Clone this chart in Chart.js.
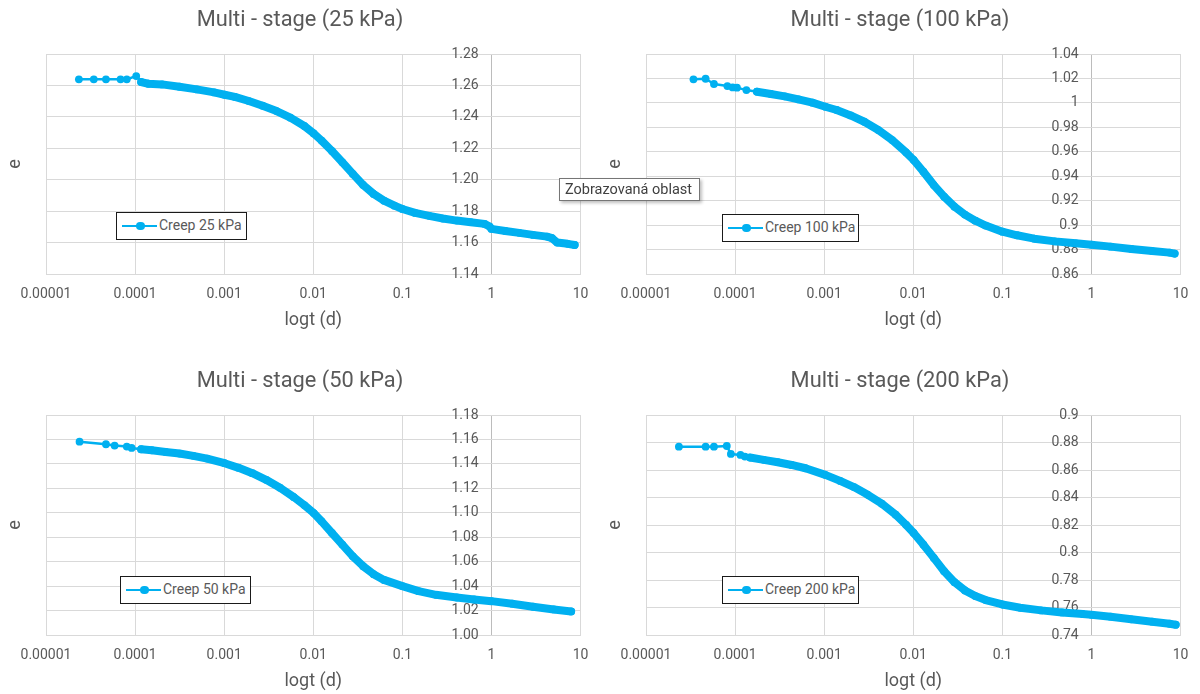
<!DOCTYPE html>
<html>
<head>
<meta charset="utf-8">
<script src="https://cdn.jsdelivr.net/npm/chart.js@4.4.1/dist/chart.umd.min.js"></script>
<style>
  html, body { margin: 0; padding: 0; background: #fff; overflow: hidden; }
  body { width: 1200px; height: 694px; position: relative; font-family: Roboto, sans-serif; }
  .box { position: absolute; width: 600px; height: 345px; }
  .legend { position: absolute; box-sizing: border-box; border: 1.5px solid #1a1a1a; background: #fff;
            height: 28px; font-size: 14px; color: #595959; }
  .legend .ln { position: absolute; left: 5px; top: 11.5px; width: 35px; height: 2.5px; background: #00B0F0; }
  .legend .dot { position: absolute; left: 19px; top: 8.5px; width: 8.5px; height: 8.5px; border-radius: 50%; background: #00B0F0; }
  .legend .txt { position: absolute; left: 42px; top: 4px; white-space: nowrap; }
  .tip { position: absolute; left: 559px; top: 178px; width: 141px; height: 23px; box-sizing: border-box;
         border: 1px solid #767676; background: #fff; box-shadow: 2px 2px 3px rgba(0,0,0,0.25);
         font-size: 14.5px; color: #404040; padding: 2px 0 0 5px; white-space: nowrap; }
</style>
</head>
<body>
<div class="box" style="left:0;top:0"><canvas id="c25"></canvas></div>
<div class="box" style="left:600px;top:0"><canvas id="c100"></canvas></div>
<div class="box" style="left:0;top:361px"><canvas id="c50"></canvas></div>
<div class="box" style="left:600px;top:361px"><canvas id="c200"></canvas></div>

<div class="legend" style="left:116px;top:212px;width:131px"><div class="ln"></div><div class="dot"></div><div class="txt">Creep 25 kPa</div></div>
<div class="legend" style="left:722px;top:214px;width:137px"><div class="ln"></div><div class="dot"></div><div class="txt">Creep 100 kPa</div></div>
<div class="legend" style="left:120px;top:576px;width:131px"><div class="ln"></div><div class="dot"></div><div class="txt">Creep 50 kPa</div></div>
<div class="legend" style="left:722px;top:576px;width:137px"><div class="ln"></div><div class="dot"></div><div class="txt">Creep 200 kPa</div></div>

<div class="tip">Zobrazovaná oblast</div>

<script>
// shared x axis (log t, days)
var xTickLabels = ['0.00001', '0.0001', '0.001', '0.01', '0.1', '1', '10'];

// 25 kPa
var t25 = [2.34e-5, 3.44e-5, 4.71e-5, 6.87e-5, 8.07e-5, 1.03e-4, 1.17e-4, 1.41e-4, 2.01e-4, 3.15e-4,
  4.93e-4, 7.71e-4, 1.01e-3, 1.32e-3, 1.89e-3, 2.70e-3, 3.87e-3, 5.53e-3, 7.93e-3, 1.01e-2,
  1.24e-2, 1.62e-2, 2.12e-2, 2.78e-2, 3.63e-2, 4.75e-2, 6.22e-2, 8.15e-2, 0.1, 0.139,
  0.2, 0.285, 0.408, 0.585, 0.836, 0.955, 1.0, 1.43, 2.05, 2.93, 4.20, 4.79, 5.48, 7.18, 8.59];
var e25 = [1.2639, 1.2639, 1.2639, 1.2639, 1.2639, 1.2660, 1.2622, 1.2611, 1.2607, 1.2592,
  1.2575, 1.2556, 1.2541, 1.2527, 1.2501, 1.2471, 1.2437, 1.2395, 1.2342, 1.2295,
  1.2249, 1.2183, 1.2111, 1.2037, 1.1967, 1.1910, 1.1867, 1.1835, 1.1814, 1.1789,
  1.1770, 1.1753, 1.1740, 1.1730, 1.1719, 1.1702, 1.1687, 1.1674, 1.1662, 1.1649, 1.1638, 1.1628, 1.1600, 1.1592, 1.1585];
var yTicks25 = ['1.14', '1.16', '1.18', '1.20', '1.22', '1.24', '1.26', '1.28'];

// 100 kPa
var t100 = [3.41e-5, 4.67e-5, 5.79e-5, 8.20e-5, 9.40e-5, 1.05e-4, 1.34e-4, 1.76e-4, 2.52e-4, 3.60e-4,
  5.15e-4, 7.38e-4, 1.03e-3, 1.38e-3, 1.98e-3, 2.82e-3, 4.05e-3, 5.79e-3, 8.28e-3, 1.01e-2,
  1.30e-2, 1.70e-2, 2.22e-2, 2.90e-2, 3.80e-2, 4.97e-2, 6.50e-2, 0.1, 0.146, 0.228,
  0.390, 0.668, 1.0, 1.64, 2.80, 4.80, 7.52, 8.59];
var e100 = [1.0193, 1.0198, 1.0155, 1.0138, 1.0127, 1.0125, 1.0105, 1.0092, 1.0073, 1.0054,
  1.0029, 1.0002, 0.9969, 0.9942, 0.9898, 0.9846, 0.9778, 0.9696, 0.9596, 0.9533,
  0.9437, 0.9328, 0.9233, 0.9151, 0.9086, 0.9036, 0.8996, 0.8946, 0.8917, 0.8889,
  0.8867, 0.8851, 0.8840, 0.8824, 0.8805, 0.8788, 0.8775, 0.8767];
var yTicks100 = ['0.86', '0.88', '0.9', '0.92', '0.94', '0.96', '0.98', '1', '1.02', '1.04'];

// 50 kPa
var t50 = [2.38e-5, 4.71e-5, 5.89e-5, 8.07e-5, 9.14e-5, 1.17e-4, 1.54e-4, 2.20e-4, 3.15e-4, 4.51e-4,
  6.44e-4, 1.01e-3, 1.45e-3, 2.07e-3, 2.96e-3, 4.23e-3, 6.05e-3, 7.93e-3, 1.01e-2, 1.24e-2,
  1.62e-2, 2.12e-2, 2.78e-2, 3.63e-2, 4.75e-2, 6.22e-2, 0.1, 0.152, 0.238, 0.408,
  0.638, 1.0, 1.71, 2.93, 5.01, 7.85];
var e50 = [1.1582, 1.1561, 1.1550, 1.1542, 1.1531, 1.1520, 1.1512, 1.1498, 1.1485, 1.1466,
  1.1444, 1.1406, 1.1368, 1.1324, 1.1270, 1.1205, 1.1128, 1.1063, 1.0998, 1.0930,
  1.0835, 1.0740, 1.0644, 1.0563, 1.0498, 1.0451, 1.0400, 1.0359, 1.0329, 1.0307,
  1.0291, 1.0277, 1.0256, 1.0231, 1.0209, 1.0193];
var yTicks50 = ['1.00', '1.02', '1.04', '1.06', '1.08', '1.10', '1.12', '1.14', '1.16', '1.18'];

// 200 kPa
var t200 = [2.34e-5, 4.67e-5, 5.79e-5, 8.07e-5, 8.97e-5, 1.15e-4, 1.29e-4, 1.47e-4, 2.10e-4, 3.01e-4,
  4.31e-4, 6.17e-4, 1.03e-3, 1.51e-3, 2.16e-3, 3.09e-3, 4.43e-3, 6.34e-3, 8.28e-3, 1.01e-2,
  1.30e-2, 1.70e-2, 2.22e-2, 2.90e-2, 3.80e-2, 4.97e-2, 6.50e-2, 0.1, 0.159, 0.273,
  0.467, 0.800, 1.0, 1.64, 2.80, 4.80, 7.52, 8.83];
var e200 = [0.8770, 0.8770, 0.8770, 0.8775, 0.8717, 0.8710, 0.8698, 0.8691, 0.8674, 0.8657,
  0.8637, 0.8613, 0.8565, 0.8521, 0.8476, 0.8420, 0.8355, 0.8275, 0.8202, 0.8142,
  0.8057, 0.7961, 0.7864, 0.7784, 0.7724, 0.7683, 0.7654, 0.7622, 0.7598, 0.7579,
  0.7564, 0.7552, 0.7547, 0.7533, 0.7514, 0.7497, 0.7482, 0.7475];
var yTicks200 = ['0.74', '0.76', '0.78', '0.8', '0.82', '0.84', '0.86', '0.88', '0.9'];

var BLUE = '#00B0F0';
var GREY = '#595959';
var FONT = 'Roboto, sans-serif';

function makeChart(id, title, label, t, e, yTicks, bandFrom) {
  var pts = t.map(function(v, i) { return { x: v, y: e[i] }; });
  return new Chart(document.getElementById(id), {
    type: 'line',
    data: {
      datasets: [{
        label: label,
        data: pts,
        borderColor: BLUE,
        backgroundColor: BLUE,
        borderWidth: 2.5,
        pointRadius: 3.9,
        pointBorderWidth: 0,
        pointBackgroundColor: BLUE,
        borderJoinStyle: 'round',
        borderCapStyle: 'round',
        // dense logger readings merge into a solid band
        segment: {
          borderWidth: function(ctx) { return ctx.p0.parsed.x >= bandFrom ? 8 : 2.5; }
        }
      }]
    },
    options: {
      responsive: false,
      animation: false,
      events: [],
      layout: { padding: 0 },
      plugins: {
        legend: { display: false },
        tooltip: { enabled: false },
        title: {
          display: true, text: title, color: GREY,
          font: { family: FONT, size: 21.8, weight: 'normal' },
          padding: { top: 7.6, bottom: 20.3 }
        }
      },
      scales: {
        x: {
          type: 'logarithmic', min: 1e-5, max: 10,
          afterBuildTicks: function(s) { s.ticks = xTickLabels.map(function(v) { return { value: Number(v) }; }); },
          ticks: {
            callback: function(v, i) { return xTickLabels[i]; },
            color: GREY, font: { family: FONT, size: 14 }, padding: 11.6, autoSkip: false, maxRotation: 0
          },
          grid: {
            color: function(ctx) { return ctx.tick && ctx.tick.value === 1 ? '#bcbcbc' : '#d9d9d9'; },
            drawTicks: false
          },
          border: { color: '#d9d9d9' },
          title: { display: true, text: 'logt (d)', color: GREY, font: { family: FONT, size: 18 }, padding: { top: -4.8, bottom: 14.2 } }
        },
        y: {
          type: 'linear',
          // value axis crosses at t = 1; labels sit just left of it
          position: { x: 0.72 },
          min: Number(yTicks[0]), max: Number(yTicks[yTicks.length - 1]),
          afterBuildTicks: function(s) { s.ticks = yTicks.map(function(v) { return { value: Number(v) }; }); },
          ticks: {
            callback: function(v, i) { return yTicks[i]; },
            color: GREY, font: { family: FONT, size: 14 }
          },
          grid: { color: '#d9d9d9', drawTicks: false },
          border: { display: false }
        },
        // left-hand axis only carries the "e" title
        yTitle: {
          type: 'linear', axis: 'y', position: 'left',
          ticks: { display: false },
          grid: { display: false, drawTicks: false },
          border: { display: false },
          title: { display: true, text: 'e', color: GREY, font: { family: FONT, size: 18 }, padding: { top: 4.2, bottom: 20.2 } }
        },
        // empty right margin so the chart title stays centred on the whole box
        yRight: {
          type: 'linear', axis: 'y', position: 'right',
          ticks: { display: false },
          grid: { display: false, drawTicks: false },
          border: { display: false },
          title: { display: true, text: '', font: { size: 10 }, padding: { top: 0, bottom: 6.5 } }
        }
      }
    }
  });
}

var boxW = 600, boxH = 345;
['c25', 'c100', 'c50', 'c200'].forEach(function(id) {
  var c = document.getElementById(id);
  c.width = boxW; c.height = boxH;
  c.style.width = boxW + 'px'; c.style.height = boxH + 'px';
});

makeChart('c25', 'Multi - stage (25 kPa)', 'Creep 25 kPa', t25, e25, yTicks25, 1.17e-4);
makeChart('c100', 'Multi - stage (100 kPa)', 'Creep 100 kPa', t100, e100, yTicks100, 1.76e-4);
makeChart('c50', 'Multi - stage (50 kPa)', 'Creep 50 kPa', t50, e50, yTicks50, 1.17e-4);
makeChart('c200', 'Multi - stage (200 kPa)', 'Creep 200 kPa', t200, e200, yTicks200, 1.47e-4);
</script>
</body>
</html>
